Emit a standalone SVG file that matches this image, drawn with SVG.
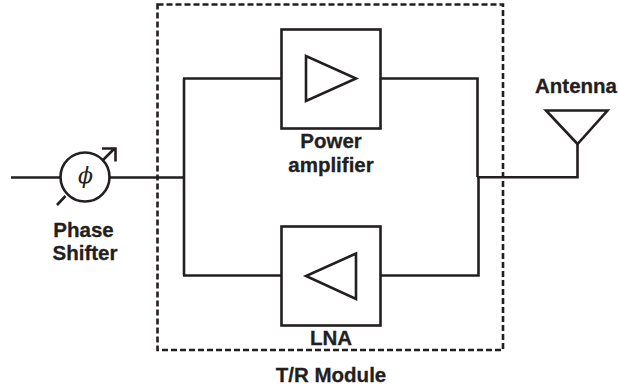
<svg xmlns="http://www.w3.org/2000/svg" width="618" height="390" viewBox="0 0 618 390">
<style>
.l{fill:none;stroke:#231f20;stroke-width:2.600;stroke-linejoin:miter}
.t{font-family:"Liberation Sans",Arial,sans-serif;font-weight:bold;font-size:20.500px;fill:#231f20;stroke:#231f20;stroke-width:0.300;text-anchor:middle}
</style>
<rect width="618" height="390" fill="#fff"/>
<g id="connectors">
<path class="l" d="M11 177.500H60"/>
<path class="l" d="M110 177.500H184M184 78.500V275.500M183 78.500H281M183 275.500H281"/>
<path class="l" d="M381 78.500H477.500V177M478.500 177V275.500H381"/>
<path class="l" d="M477 177.200H577.500V144"/>
</g>
<g id="tr-module">
<rect x="157.500" y="4.500" width="345.500" height="345.500" fill="none" stroke="#231f20" stroke-width="2.600" stroke-dasharray="6 3"/>
<text class="t" x="331" y="382">T/R Module</text>
</g>
<g id="phase-shifter">
<circle cx="85" cy="177" r="24.500" fill="#fff" stroke="#231f20" stroke-width="2.600"/>
<path class="l" d="M57 205L65.500 196M102.500 160.500L115 148M102 148.500H115.500V161.500"/>
<text x="85.500" y="183" font-family="'DejaVu Serif',serif" font-style="italic" font-size="22" text-anchor="middle" fill="#231f20">ϕ</text>
<text class="t" x="83.500" y="237">Phase</text>
<text class="t" x="85" y="260">Shifter</text>
</g>
<g id="power-amplifier">
<rect class="l" x="281.500" y="29.500" width="99" height="99"/>
<path class="l" d="M306 56V101L356 78.500Z"/>
<text class="t" x="331" y="148">Power</text>
<text class="t" x="331" y="172">amplifier</text>
</g>
<g id="lna">
<rect class="l" x="281.500" y="226.500" width="99" height="99"/>
<path class="l" d="M356 253.500V299L306 276Z"/>
<text class="t" x="331" y="345">LNA</text>
</g>
<g id="antenna">
<path class="l" d="M546 110.500H607.500L577.500 144Z"/>
<text class="t" x="576" y="93">Antenna</text>
</g>
</svg>
